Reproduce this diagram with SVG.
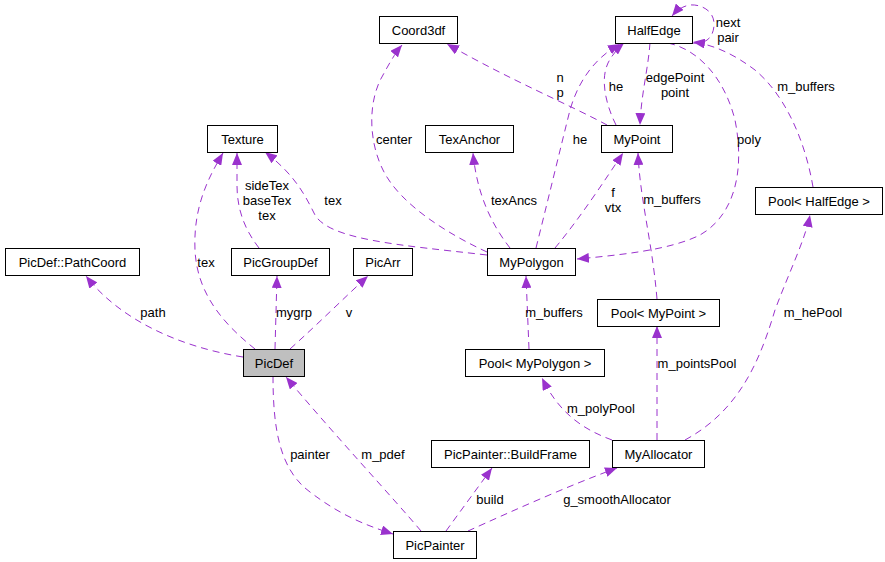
<svg xmlns="http://www.w3.org/2000/svg" width="885" height="562" viewBox="0 0 885 562">
<style>
.n rect{fill:#fff;stroke:#000;stroke-width:1}
.t{font-family:"Liberation Sans",Arial,Helvetica,sans-serif;font-size:13px;fill:#000;text-anchor:middle}
.e path{fill:none;stroke:#9a32cd;stroke-width:1;stroke-dasharray:7,5;marker-end:url(#a)}
</style>
<defs>
<marker id="a" markerUnits="userSpaceOnUse" markerWidth="13" markerHeight="10" refX="12" refY="5" orient="auto">
<path d="M0,0 L12,5 L0,10 z" fill="#9a32cd" stroke="none"/>
</marker>
</defs>
<rect width="885" height="562" fill="#fff"/>
<g id="edges" class="e">
<path d="M243,357 C180,347 120,320 86,276"/>
<path d="M255,349 C225,325 197,295 195,250 C193,205 210,175 223,153"/>
<path d="M259,248 C245,230 237,210 237,185 L237,153"/>
<path d="M487,255 C400,245 330,240 315,215 C305,195 295,175 265,152"/>
<path d="M275,349 L277,276"/>
<path d="M290,349 C320,322 345,297 368,276"/>
<path d="M273,376 C273,430 280,470 310,492 C340,515 365,525 393,534"/>
<path d="M421,531 C395,500 330,430 286,377"/>
<path d="M446,531 L492,468"/>
<path d="M468,531 C510,512 570,485 617,468"/>
<path d="M612,440 C585,430 560,415 542,378"/>
<path d="M657,440 L657,326"/>
<path d="M685,440 C740,410 760,360 775,310 C790,270 805,240 810,215"/>
<path d="M529,349 L526,276"/>
<path d="M657,299 C652,240 640,200 638,153"/>
<path d="M813,187 C805,140 785,95 755,70 C735,55 715,45 693,42"/>
<path d="M692,43 C708,45 714,35 714,24 C714,10 700,4 690,5 C683,6 677,10 672,16"/>
<path d="M616,125 C606,105 600,80 608,63 C612,55 618,48 624,43"/>
<path d="M536,248 C548,200 560,150 570,110 C580,75 600,55 620,44"/>
<path d="M607,125 C570,105 510,80 447,44"/>
<path d="M650,43 C648,70 641,95 640,125"/>
<path d="M668,43 C700,50 725,80 735,120 C745,170 735,215 700,235 C670,250 620,255 577,259"/>
<path d="M487,252 C450,235 400,205 383,170 C368,140 368,100 383,75 C390,62 396,52 402,45"/>
<path d="M510,248 C492,225 477,195 473,153"/>
<path d="M555,248 C580,218 605,180 623,153"/>
</g>
<g id="edge-labels" class="t">
<text x="153" y="317">path</text>
<text x="206" y="267">tex</text>
<text x="267" y="190">sideTex</text>
<text x="267" y="205">baseTex</text>
<text x="267" y="220">tex</text>
<text x="333" y="205">tex</text>
<text x="294" y="317">mygrp</text>
<text x="349" y="317">v</text>
<text x="310" y="459">painter</text>
<text x="383" y="459">m_pdef</text>
<text x="490" y="504">build</text>
<text x="617" y="504">g_smoothAllocator</text>
<text x="601" y="413">m_polyPool</text>
<text x="697" y="368">m_pointsPool</text>
<text x="813" y="317">m_hePool</text>
<text x="554" y="317">m_buffers</text>
<text x="672" y="204">m_buffers</text>
<text x="806" y="91">m_buffers</text>
<text x="728" y="27">next</text>
<text x="728" y="42">pair</text>
<text x="616" y="91">he</text>
<text x="580" y="144">he</text>
<text x="560" y="82">n</text>
<text x="560" y="97">p</text>
<text x="675" y="82">edgePoint</text>
<text x="675" y="97">point</text>
<text x="749" y="144">poly</text>
<text x="394" y="144">center</text>
<text x="514" y="205">texAncs</text>
<text x="613" y="197">f</text>
<text x="613" y="212">vtx</text>
</g>
<g id="Coord3df" class="n"><rect x="379.5" y="16.5" width="78" height="27"/><text class="t" x="418.5" y="35">Coord3df</text></g>
<g id="HalfEdge" class="n"><rect x="615.5" y="16.5" width="77" height="27"/><text class="t" x="654" y="35">HalfEdge</text></g>
<g id="TexAnchor" class="n"><rect x="425.5" y="125.5" width="88" height="27"/><text class="t" x="469.5" y="144">TexAnchor</text></g>
<g id="MyPoint" class="n"><rect x="601.5" y="125.5" width="71" height="27"/><text class="t" x="637" y="144">MyPoint</text></g>
<g id="Texture" class="n"><rect x="207.5" y="125.5" width="70" height="27"/><text class="t" x="242.5" y="144">Texture</text></g>
<g id="PicDef_PathCoord" class="n"><rect x="5.5" y="248.5" width="134" height="27"/><text class="t" x="72.5" y="267">PicDef::PathCoord</text></g>
<g id="PicGroupDef" class="n"><rect x="231.5" y="248.5" width="98" height="27"/><text class="t" x="280.5" y="267">PicGroupDef</text></g>
<g id="PicArr" class="n"><rect x="353.5" y="248.5" width="59" height="27"/><text class="t" x="383" y="267">PicArr</text></g>
<g id="MyPolygon" class="n"><rect x="487.5" y="248.5" width="88" height="27"/><text class="t" x="531.5" y="267">MyPolygon</text></g>
<g id="Pool_HalfEdge" class="n"><rect x="755.5" y="187.5" width="127" height="27"/><text class="t" x="819" y="206">Pool&lt; HalfEdge &gt;</text></g>
<g id="Pool_MyPoint" class="n"><rect x="597.5" y="299.5" width="122" height="27"/><text class="t" x="658.5" y="318">Pool&lt; MyPoint &gt;</text></g>
<g id="Pool_MyPolygon" class="n"><rect x="465.5" y="349.5" width="139" height="27"/><text class="t" x="535" y="368">Pool&lt; MyPolygon &gt;</text></g>
<g id="PicDef" class="n"><rect x="243.5" y="349.5" width="61" height="27" style="fill:#bfbfbf"/><text class="t" x="274" y="368">PicDef</text></g>
<g id="PicPainter_BuildFrame" class="n"><rect x="431.5" y="440.5" width="158" height="27"/><text class="t" x="510.5" y="459">PicPainter::BuildFrame</text></g>
<g id="MyAllocator" class="n"><rect x="612.5" y="440.5" width="92" height="27"/><text class="t" x="658.5" y="459">MyAllocator</text></g>
<g id="PicPainter" class="n"><rect x="393.5" y="531.5" width="83" height="27"/><text class="t" x="435" y="550">PicPainter</text></g>
</svg>
